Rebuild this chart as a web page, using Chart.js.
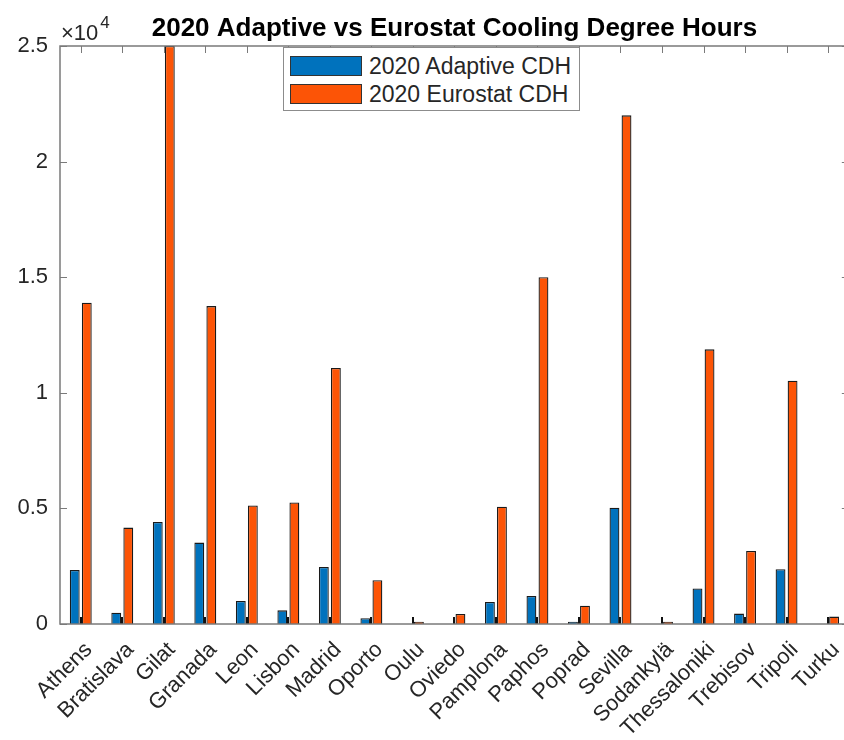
<!DOCTYPE html>
<html>
<head>
<meta charset="utf-8">
<script src="https://cdn.jsdelivr.net/npm/chart.js@4"></script>
<style>
  html, body { margin: 0; padding: 0; background: #fff; overflow: hidden; }
  #wrap { position: relative; width: 860px; height: 740px; }
  #legend {
    position: absolute; left: 283px; top: 47px; width: 297px; height: 64px;
    border: 1px solid #8c8c8c; background: #fff; box-sizing: border-box;
    font-family: "Liberation Sans", Arial, sans-serif; font-size: 23px; color: #262626;
  }
  #legend .row { position: absolute; left: 6px; height: 22px; display: flex; align-items: center; }
  #legend .swatch { width: 72px; height: 20px; border: 1px solid #333; box-sizing: border-box; margin-right: 7px; }
</style>
</head>
<body>
<div id="wrap">
  <canvas id="cdhChart" width="860" height="740"></canvas>
  <div id="legend"></div>
</div>
<script>
const cities = ["Athens","Bratislava","Gilat","Granada","Leon","Lisbon","Madrid","Oporto","Oulu","Oviedo",
  "Pamplona","Paphos","Poprad","Sevilla","Sodankylä","Thessaloniki","Trebisov","Tripoli","Turku"];
const adaptiveCDH = [2340, 490, 4410, 3520, 1000, 590, 2470, 250, 0, 0,
  950, 1210, 100, 5030, 0, 1540, 450, 2370, 0];
const eurostatCDH = [13900, 4170, 25000, 13750, 5130, 5260, 11070, 1890, 100, 430,
  5070, 15000, 790, 22000, 100, 11880, 3160, 10520, 320];
const seriesNames = ["2020 Adaptive CDH", "2020 Eurostat CDH"];
const seriesColors = ["#0072BD", "#FC5406"];
const yMax = 25000;
const yStep = 5000;
const titleText = "2020 Adaptive vs Eurostat Cooling Degree Hours";

const FONT = '"Liberation Sans", Arial, sans-serif';
const INK = '#262626';

// box, inward ticks, title and exponent label, MATLAB style
const matlabAxes = {
  id: 'matlabAxes',
  afterDatasetsDraw(chart) {
    const ctx = chart.ctx;
    const a = chart.chartArea;
    const xs = chart.scales.x, ys = chart.scales.y;
    const tick = 7;
    ctx.save();
    ctx.strokeStyle = '#7a7a7a';
    ctx.lineWidth = 1;
    ctx.beginPath();
    xs.ticks.forEach((t, i) => {
      const x = Math.round(xs.getPixelForTick(i)) + 0.5;
      ctx.moveTo(x, a.top); ctx.lineTo(x, a.top + tick);
    });
    ys.ticks.forEach((t, i) => {
      const y = Math.round(ys.getPixelForTick(i)) + 0.5;
      ctx.moveTo(a.left, y); ctx.lineTo(a.left + tick, y);
      ctx.moveTo(a.right, y); ctx.lineTo(a.right - tick, y);
    });
    ctx.stroke();
    // bottom ticks show dark where they cross the bars
    ctx.strokeStyle = '#111';
    ctx.lineWidth = 2;
    ctx.beginPath();
    xs.ticks.forEach((t, i) => {
      const x = Math.round(xs.getPixelForTick(i));
      ctx.moveTo(x, a.bottom); ctx.lineTo(x, a.bottom - tick);
    });
    ctx.stroke();
    ctx.strokeStyle = '#7a7a7a';
    ctx.lineWidth = 1.5;
    ctx.strokeRect(a.left, a.top, a.right - a.left, a.bottom - a.top);

    ctx.fillStyle = '#000';
    ctx.textBaseline = 'alphabetic';
    ctx.font = 'bold 26px ' + FONT;
    ctx.textAlign = 'center';
    ctx.fillText(titleText, (a.left + a.right) / 2, 36);

    ctx.fillStyle = INK;
    ctx.textAlign = 'left';
    ctx.font = '22px ' + FONT;
    ctx.fillText('\u00d710', a.left + 1, a.top - 6);
    const w = ctx.measureText('\u00d710').width;
    ctx.font = '17px ' + FONT;
    ctx.fillText('4', a.left + 3 + w, a.top - 18);
    ctx.restore();
  }
};

const ctx = document.getElementById('cdhChart');
const cdhChart = new Chart(ctx, {
  type: 'bar',
  data: {
    labels: cities,
    datasets: [
      { label: seriesNames[0], data: adaptiveCDH, backgroundColor: seriesColors[0],
        borderColor: '#1a1a1a', borderWidth: 1.3, categoryPercentage: 0.58, barPercentage: 0.82 },
      { label: seriesNames[1], data: eurostatCDH, backgroundColor: seriesColors[1],
        borderColor: '#1a1a1a', borderWidth: 1.3, categoryPercentage: 0.58, barPercentage: 0.82 }
    ]
  },
  options: {
    responsive: false,
    animation: false,
    layout: { padding: { top: 46, right: 10, left: 0, bottom: 0 } },
    plugins: {
      legend: { display: false },
      title: { display: false },
      tooltip: { enabled: false }
    },
    scales: {
      x: {
        grid: { display: false, drawTicks: false },
        border: { display: false },
        ticks: {
          autoSkip: false, maxRotation: 45, minRotation: 45, padding: 13, labelOffset: 8,
          color: INK, font: { family: FONT, size: 22 }
        },
        afterFit(scale) { scale.height = 116; }
      },
      y: {
        min: 0, max: yMax,
        grid: { display: false, drawTicks: false },
        border: { display: false },
        ticks: {
          stepSize: yStep, padding: 12, color: INK, font: { family: FONT, size: 22 },
          callback: v => String(v / 10000)
        },
        afterFit(scale) { scale.width = 60; }
      }
    }
  },
  plugins: [matlabAxes]
});

// legend inside the axes, like MATLAB's
const legendEl = document.getElementById('legend');
cdhChart.data.datasets.forEach((ds, i) => {
  const row = document.createElement('div');
  row.className = 'row';
  row.style.top = (7 + i * 28) + 'px';
  const sw = document.createElement('span');
  sw.className = 'swatch';
  sw.style.background = ds.backgroundColor;
  const label = document.createElement('span');
  label.textContent = ds.label;
  row.appendChild(sw);
  row.appendChild(label);
  legendEl.appendChild(row);
});
</script>
</body>
</html>
